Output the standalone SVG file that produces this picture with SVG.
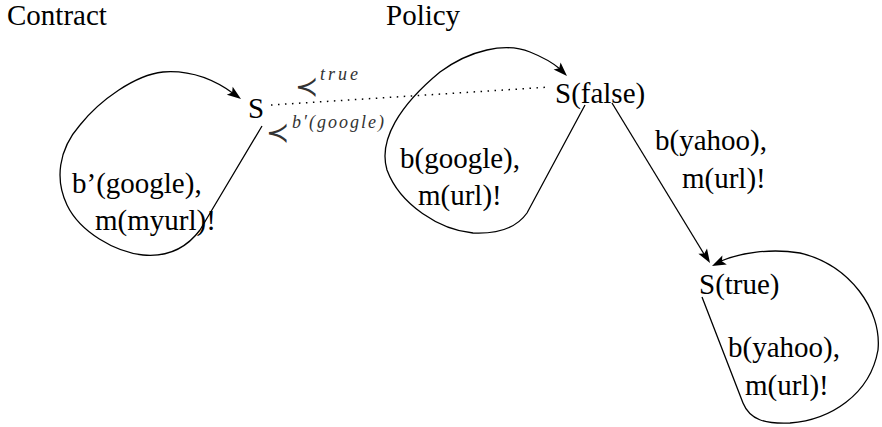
<svg xmlns="http://www.w3.org/2000/svg" width="882" height="427" viewBox="0 0 882 427">
  <style>
    .edge { fill: none; stroke: #000; stroke-width: 1.3; }
    .head { fill: #000; stroke: none; }
    .dots { fill: none; stroke: #000; stroke-width: 1.5; stroke-dasharray: 1.5 5.5; }
  </style>

  <!-- transitions, each with its arrowhead -->
  <g id="connectors">
    <!-- contract self-loop on S -->
    <path class="edge" d="M262,126 L200,230 C185,250 165,257 143,255 C115,252 80,232 67,205 C55,180 58,150 80,125 C100,100 135,75 163,72 C190,70 215,80 234,94"/>
    <polygon class="head" points="241,99 226.8,94.8 232.1,92.5 232.7,86.7"/>
    <!-- policy self-loop on S(false) -->
    <path class="edge" d="M585,105 L527,213 C515,230 495,234 473,233 C440,230 400,205 387,170 C378,140 400,105 440,72 C470,50 505,42 530,52 C545,58 553,63 560,69"/>
    <polygon class="head" points="567,76 553.6,69.6 559.2,68.2 560.6,62.6"/>
    <!-- S(false) to S(true) -->
    <path class="edge" d="M612,103 L704,254"/>
    <polygon class="head" points="710,263 698.4,253.7 704.3,253.6 707,248.5"/>
    <!-- self-loop on S(true) -->
    <path class="edge" d="M702,297 L743,403 C750,420 765,424 790,423 C830,420 870,395 878,350 C882,310 850,265 800,253 C770,248 740,253 721,261"/>
    <polygon class="head" points="712,266 722.4,255.5 721.9,261.3 726.8,264.5"/>
    <!-- correspondence between contract and policy states -->
    <path class="dots" d="M271,105 L550,87"/>
  </g>

  <g font-family="Times New Roman, Liberation Serif, Noto Serif, DejaVu Serif, serif" font-size="29" fill="#000">
    <!-- section headings -->
    <g id="title-contract"><text x="7" y="25">Contract</text></g>
    <g id="title-policy"><text x="386" y="25">Policy</text></g>

    <!-- transition labels -->
    <g id="label-contract-loop">
      <text x="72" y="193">b’(google),</text>
      <text x="95" y="230">m(myurl)!</text>
    </g>
    <g id="label-policy-loop">
      <text x="400" y="168">b(google),</text>
      <text x="418" y="205">m(url)!</text>
    </g>
    <g id="label-false-true">
      <text x="655" y="150">b(yahoo),</text>
      <text x="682" y="188">m(url)!</text>
    </g>
    <g id="label-true-loop">
      <text x="728" y="357">b(yahoo),</text>
      <text x="745" y="395">m(url)!</text>
    </g>

    <!-- states -->
    <g id="state-s"><text x="248" y="118">S</text></g>
    <g id="state-s-false"><text x="555" y="103">S(false)</text></g>
    <g id="state-s-true"><text x="699" y="294">S(true)</text></g>
  </g>

  <!-- relation annotations -->
  <g id="rel-true" fill="#333">
    <text font-family="DejaVu Sans, sans-serif" font-size="28" x="295" y="96">≺</text>
    <text font-family="Times New Roman, Liberation Serif, serif" font-style="italic" font-size="18" letter-spacing="3" x="320" y="80">true</text>
  </g>
  <g id="rel-google" fill="#333">
    <text font-family="DejaVu Sans, sans-serif" font-size="28" x="266" y="142">≺</text>
    <text font-family="Times New Roman, Liberation Serif, serif" font-style="italic" font-size="18" letter-spacing="2" x="292" y="128">b′(google)</text>
  </g>
</svg>
